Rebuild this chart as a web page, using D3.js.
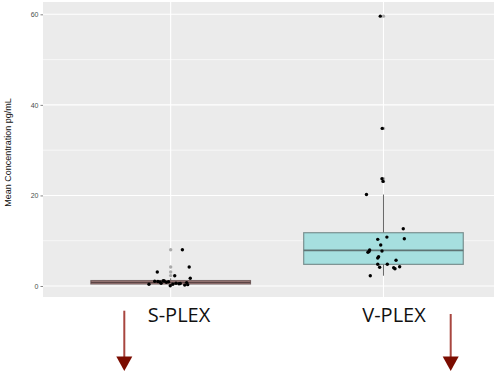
<!DOCTYPE html>
<html><head><meta charset="utf-8">
<script src="https://cdn.jsdelivr.net/npm/d3@7"></script>
<style>body{margin:0;background:#fff}svg{display:block}</style>
</head><body><svg id="c" width="494" height="373"></svg>
<script>
const categories = ["S-PLEX", "V-PLEX"];
const yTicks = [0, 20, 40, 60];
const yMinor = [10, 30, 50];
// box stats: [whiskerLow, Q1, median, Q3, whiskerHigh]
const boxSPLEX = [0.07, 0.45, 0.8, 1.2, 1.7];
const boxVPLEX = [2.27, 4.78, 7.87, 11.77, 20.2];
const outliersSPLEX = [8.0, 4.2, 3.1, 2.3];
const outliersVPLEX = [59.6, 34.8, 23.7, 23.1];
// jittered points: value and horizontal jitter (category units)
const valuesSPLEX = [8.0, 4.19, 3.09, 2.27, 1.7, 0.37, 1.17, 0.07, 0.5, 0.2, 1.0, 0.9, 0.6, 1.1, 0.8, 0.95, 0.4, 0.6, 0.75, 0.3, 0.55, 1.05];
const jitterSPLEX = [0.055, 0.087, -0.063, 0.019, 0.092, -0.102, -0.035, -0.002, 0.039, 0.066, -0.06, -0.05, -0.045, -0.03, -0.02, -0.01, 0.01, 0.025, 0.075, 0.08, 0.045, -0.075];
const valuesVPLEX = [59.6, 34.8, 23.7, 23.1, 20.2, 12.65, 10.45, 10.3, 10.8, 9.05, 7.95, 7.44, 7.6, 7.73, 6.47, 6.18, 5.67, 4.79, 4.13, 4.79, 4.04, 3.82, 4.26, 2.27];
const jitterVPLEX = [-0.015, -0.006, -0.007, -0.002, -0.08, 0.093, 0.098, -0.027, 0.016, -0.013, -0.065, -0.073, -0.068, -0.007, -0.023, -0.027, 0.059, -0.027, -0.018, 0.018, 0.048, 0.054, 0.076, -0.062];
const yTitle = "Mean Concentration pg/mL";

const boxes = [boxSPLEX, boxVPLEX];
const outliers = [outliersSPLEX, outliersVPLEX];
const values = [valuesSPLEX, valuesVPLEX];
const jitters = [jitterSPLEX, jitterVPLEX];
const fills = ["#d9a9a6", "#a6dfdf"];
const strokes = ["#5a4444", "#5f7474"];

const svg = d3.select("#c");
const L = 43, T = 2, B = 297;
const unit = 212.8;
const x = d3.scaleLinear().domain([0.4, 2.6]).range([L, L + 2.2 * unit]);
const y = d3.scaleLinear().domain([-2.43, 62.72]).range([B, T]);

svg.append("rect").attr("x", L).attr("y", T).attr("width", 494 - L).attr("height", B - T).attr("fill", "#ebebeb");
const g = svg.append("g");
g.selectAll(".minor").data(yMinor).join("line")
  .attr("x1", L).attr("x2", 494).attr("y1", d => y(d)).attr("y2", d => y(d))
  .attr("stroke", "#fff").attr("stroke-width", 0.6);
g.selectAll(".major").data(yTicks).join("line")
  .attr("x1", L).attr("x2", 494).attr("y1", d => y(d)).attr("y2", d => y(d))
  .attr("stroke", "#fff").attr("stroke-width", 1.1);
g.selectAll(".vmajor").data(categories).join("line")
  .attr("x1", (d, i) => x(i + 1)).attr("x2", (d, i) => x(i + 1)).attr("y1", T).attr("y2", B)
  .attr("stroke", "#fff").attr("stroke-width", 1.1);

// y axis
const ya = svg.append("g").attr("transform", `translate(${L},0)`)
  .call(d3.axisLeft(y).tickValues(yTicks).tickSize(2.5).tickPadding(2));
ya.select(".domain").remove();
ya.selectAll("line").attr("stroke", "#333").attr("stroke-width", 0.6);
ya.selectAll("text").attr("fill", "#4d4d4d").style("font-family", "Liberation Sans, Arial, sans-serif").style("font-size", "7px");

svg.append("text").attr("transform", `translate(11,${(T + B) / 2 + 3}) rotate(-90)`)
  .attr("text-anchor", "middle").style("font-family", "Liberation Sans, Arial, sans-serif")
  .style("font-size", "9px").attr("fill", "#111").text(yTitle);

const bw = 0.75;
categories.forEach((c, i) => {
  const cx = i + 1, b = boxes[i];
  // whiskers
  g.append("line").attr("x1", x(cx)).attr("x2", x(cx)).attr("y1", y(b[3])).attr("y2", y(b[4]))
    .attr("stroke", "#666").attr("stroke-width", 1);
  g.append("line").attr("x1", x(cx)).attr("x2", x(cx)).attr("y1", y(b[1])).attr("y2", y(b[0]))
    .attr("stroke", "#666").attr("stroke-width", 1);
  g.append("rect").attr("x", x(cx - bw / 2)).attr("width", x(cx + bw / 2) - x(cx - bw / 2))
    .attr("y", y(b[3])).attr("height", y(b[1]) - y(b[3]))
    .attr("fill", fills[i]).attr("stroke", strokes[i]).attr("stroke-width", 1.2).attr("stroke-opacity", 0.75);
  g.append("line").attr("x1", x(cx - bw / 2)).attr("x2", x(cx + bw / 2)).attr("y1", y(b[2])).attr("y2", y(b[2]))
    .attr("stroke", strokes[i]).attr("stroke-width", 1.8);
  g.selectAll(null).data(outliers[i]).join("circle")
    .attr("cx", x(cx)).attr("cy", d => y(d)).attr("r", 1.7).attr("fill", "#aaa");
  g.selectAll(null).data(values[i]).join("circle")
    .attr("cx", (d, k) => x(cx + jitters[i][k])).attr("cy", d => y(d)).attr("r", 1.7).attr("fill", "#000");
});

// category labels below
const labelX = [179, 394];
svg.selectAll(".cat").data(categories).join("text")
  .attr("x", (d, i) => labelX[i]).attr("y", 322).attr("text-anchor", "middle")
  .style("font-family", "Open Sans, Noto Sans, sans-serif").style("font-size", "20px").attr("fill", "#111").text(d => d);

// arrows
const arrows = [{x: 124.3, y1: 310.7}, {x: 450.7, y1: 314}];
arrows.forEach(a => {
  svg.append("line").attr("x1", a.x).attr("x2", a.x).attr("y1", a.y1).attr("y2", 358)
    .attr("stroke", "#a8463f").attr("stroke-width", 2);
  svg.append("path").attr("d", `M${a.x - 8},356.5 L${a.x + 8},356.5 L${a.x},371 Z`).attr("fill", "#7b0c00");
});
</script></body></html>
